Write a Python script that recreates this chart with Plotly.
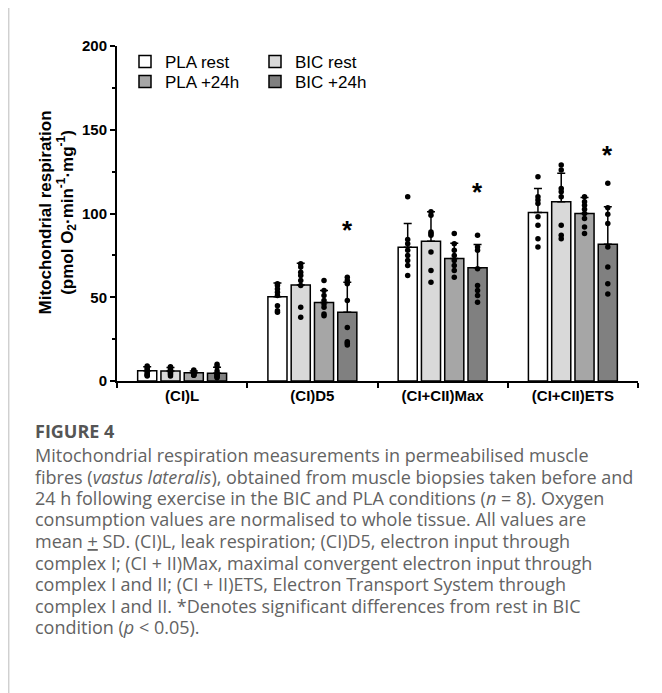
import plotly.graph_objects as go

# ---------------- data ----------------
categories = ["(CI)L", "(CI)D5", "(CI+CII)Max", "(CI+CII)ETS"]
series_names = ["PLA rest", "BIC rest", "PLA +24h", "BIC +24h"]
series_colors = ["#ffffff", "#d9d9d9", "#a6a6a6", "#808080"]

pla_rest_mean = [6.1, 50.3, 79.8, 100.6]
bic_rest_mean = [6.0, 57.3, 83.4, 107.0]
pla_24_mean = [4.9, 46.8, 73.2, 100.0]
bic_24_mean = [4.7, 41.0, 67.6, 81.6]

pla_rest_sd = [2.4, 8.2, 14.3, 14.4]
bic_rest_sd = [2.1, 13.0, 17.6, 17.0]
pla_24_sd = [1.1, 7.2, 9.0, 9.6]
bic_24_sd = [3.5, 18.0, 13.9, 22.4]

pla_rest_pts = [
    [9, 8, 7, 6, 5, 4, 3.5, 3],
    [58, 57, 55, 53, 51, 45, 42, 41],
    [110, 84.5, 82, 78, 75, 72, 69, 63],
    [122, 110, 108, 106, 98, 93, 85, 80],
]
bic_rest_pts = [
    [8.5, 8, 7, 6, 5.5, 5, 4, 3],
    [70, 68, 65, 63, 60, 57, 44, 38],
    [101, 99, 89, 88, 87, 77, 66, 59],
    [129, 126, 115, 113, 110, 93, 87, 85],
]
pla_24_pts = [
    [6.5, 6, 5.5, 5, 4.5, 4, 3.5, 3.5],
    [60, 54, 51, 48, 46, 44, 40, 39],
    [88, 82, 78, 75, 72, 69, 66, 62],
    [110, 107, 105, 102.5, 100, 97, 92, 88],
]
bic_24_pts = [
    [10, 8.5, 6, 4.5, 4, 3, 2.5, 2],
    [62, 60, 58, 48, 32, 23.5, 22.5, 21.5],
    [87, 80, 78, 67, 57, 54, 51, 47],
    [118, 103.5, 99.5, 94, 80, 68, 58, 52],
]
bic_24_significant = [False, True, True, True]

y_ticks = [0, 50, 100, 150, 200]

caption_title = "FIGURE 4"
caption_lines = [
    "Mitochondrial respiration measurements in permeabilised muscle",
    "fibres (<i>vastus lateralis</i>), obtained from muscle biopsies taken before and",
    "24 h following exercise in the BIC and PLA conditions (<i>n</i> = 8). Oxygen",
    "consumption values are normalised to whole tissue. All values are",
    "mean <u>+</u> SD. (CI)L, leak respiration; (CI)D5, electron input through",
    "complex I; (CI + II)Max, maximal convergent electron input through",
    "complex I and II; (CI + II)ETS, Electron Transport System through",
    "complex I and II. *Denotes significant differences from rest in BIC",
    "condition (<i>p</i> &lt; 0.05).",
]

means = [pla_rest_mean, bic_rest_mean, pla_24_mean, bic_24_mean]
sds = [pla_rest_sd, bic_rest_sd, pla_24_sd, bic_24_sd]
pts = [pla_rest_pts, bic_rest_pts, pla_24_pts, bic_24_pts]

# ---------------- layout geometry ----------------
# The page body adds an 8px margin, so the figure is drawn 8px smaller and
# all target positions below are given in screen pixels.
OFF = 8
W, H = 662 - OFF, 693 - OFF
S_PL, S_PR, S_PT, S_PB = 117, 638, 46, 381   # plot area in screen px
PL, PR, PT, PB = S_PL - OFF, S_PR - OFF, S_PT - OFF, S_PB - OFF
BARGAP = 0.285
BARGROUPGAP = 0.18
slot = (1 - BARGAP) / len(series_names)

def fx(sx):
    return (sx - OFF - PL) / (PR - PL)

def fy(sy):
    return (PB - (sy - OFF)) / (PB - PT)

AX_FONT = "Arial, Liberation Sans, sans-serif"
CAP_FONT = "Open Sans, Lato, sans-serif"

fig = go.Figure()

legend_ids = ["legend", "legend2", "legend3", "legend4"]
for k, name in enumerate(series_names):
    fig.add_trace(go.Bar(
        name=name, x=categories, y=means[k],
        marker=dict(color=series_colors[k], line=dict(color="black", width=1.5)),
        error_y=dict(type="data", array=sds[k], arrayminus=[0] * len(categories),
                     symmetric=False, color="black", thickness=1.5, width=4),
        legend=legend_ids[k],
        xaxis="x", yaxis="y",
    ))

# individual data points, overlaid on a hidden numeric x axis
for k in range(len(series_names)):
    xs, ys = [], []
    for i in range(len(categories)):
        for v in pts[k][i]:
            xs.append(i + (k - (len(series_names) - 1) / 2) * slot)
            ys.append(v)
    fig.add_trace(go.Scatter(
        x=xs, y=ys, mode="markers", xaxis="x2", yaxis="y",
        marker=dict(color="black", size=5.5), showlegend=False, hoverinfo="y",
    ))

# significance stars (above the SD whisker of BIC +24h)
k_star = 3
for i, sig in enumerate(bic_24_significant):
    if sig:
        sd_top = means[k_star][i] + sds[k_star][i]
        fig.add_annotation(
            x=i + (k_star - 1.5) * slot, y=sd_top + 21, xref="x2", yref="y",
            text="<b>*</b>", showarrow=False, yanchor="bottom",
            font=dict(family=AX_FONT, size=26, color="black"),
        )

# y axis title
fig.add_annotation(
    x=fx(57.5), y=fy(213), xref="paper", yref="paper",
    text="<b>Mitochondrial respiration<br>(pmol O<sub>2</sub>·min<sup>-1</sup>·mg<sup>-1</sup>)</b>",
    textangle=-90, showarrow=False, xanchor="center", yanchor="middle",
    font=dict(family=AX_FONT, size=17, color="black"),
)

# caption
CAP_X = 33
fig.add_annotation(
    x=fx(CAP_X), y=fy(431), xref="paper", yref="paper", text="<b>" + caption_title + "</b>",
    showarrow=False, xanchor="left", yanchor="middle", align="left",
    font=dict(family=CAP_FONT, size=18, color="#555555"),
)
for j, line in enumerate(caption_lines):
    fig.add_annotation(
        x=fx(CAP_X), y=fy(455 + 21.5 * j), xref="paper", yref="paper", text=line,
        showarrow=False, xanchor="left", yanchor="middle", align="left",
        font=dict(family=CAP_FONT, size=18, color="#636363"),
    )

# page border line on the left
fig.add_shape(type="line", xref="paper", yref="paper",
              x0=fx(8.7), x1=fx(8.7), y0=fy(0), y1=fy(693),
              line=dict(color="#d0d0d0", width=1.5))

# one legend per entry, arranged as a 2 x 2 grid
LEG_TEXT_X = [167, 297, 167, 297]
LEG_ROW_Y = [60, 60, 80, 80]
legends = {}
for k, lid in enumerate(legend_ids):
    legends[lid] = dict(
        x=fx(LEG_TEXT_X[k] - 42), y=fy(LEG_ROW_Y[k] - 16), xanchor="left", yanchor="top",
        orientation="v", font=dict(family=AX_FONT, size=17, color="black"),
        bgcolor="rgba(0,0,0,0)", itemclick=False, itemwidth=30,
    )

fig.update_layout(
    width=W, height=H, autosize=False,
    margin=dict(l=PL, r=W - PR, t=PT, b=H - PB, pad=0),
    paper_bgcolor="white", plot_bgcolor="white",
    barmode="group", bargap=BARGAP, bargroupgap=BARGROUPGAP,
    font=dict(family=AX_FONT, color="black"),
    xaxis=dict(
        type="category", range=[-0.5, 3.5], showline=True, linecolor="black", linewidth=2,
        ticks="outside", tickson="boundaries", ticklen=5, tickwidth=1.5, tickcolor="black",
        tickfont=dict(family=AX_FONT, size=15, color="black", weight="bold"),
        showgrid=False, zeroline=False, fixedrange=True,
    ),
    xaxis2=dict(overlaying="x", range=[-0.5, 3.5], visible=False, fixedrange=True),
    yaxis=dict(
        range=[0, 200], tickvals=y_ticks, showline=True, linecolor="black", linewidth=2,
        ticks="outside", ticklen=5, tickwidth=1.5, tickcolor="black",
        minor=dict(dtick=25, ticks="outside", ticklen=3, tickwidth=1.5, tickcolor="black"),
        tickfont=dict(family=AX_FONT, size=15, color="black", weight="bold"),
        showgrid=False, zeroline=False, fixedrange=True,
    ),
    showlegend=True,
    **legends,
)

fig.write_html("out.html")
